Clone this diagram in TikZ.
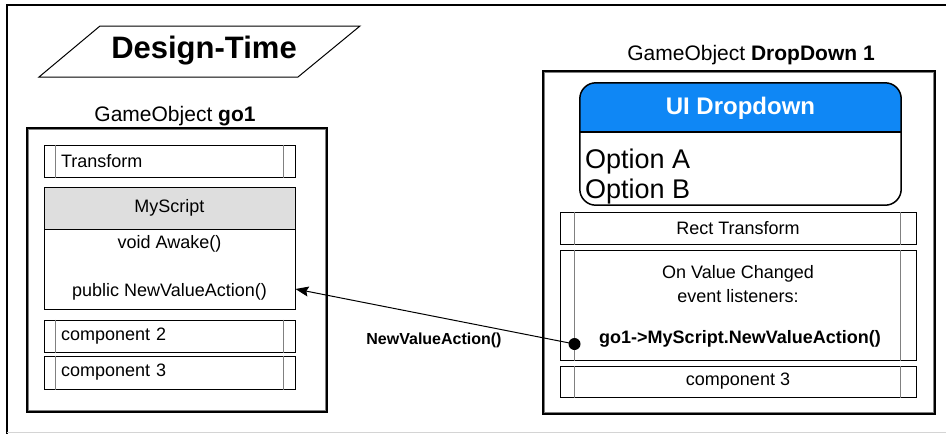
\documentclass[tikz,border=0pt]{standalone}
\usepackage{fontspec}
\setmainfont{Liberation Sans}
\usetikzlibrary{arrows.meta}
\usetikzlibrary{positioning}
\usetikzlibrary{calc}
\definecolor{hdrgray}{HTML}{DEDEDE}
\definecolor{ddblue}{HTML}{0F87F5}
\definecolor{bargray}{HTML}{808080}
\definecolor{framegray}{HTML}{D4D4D4}

\begin{document}
\begin{tikzpicture}[x=1pt,y=-1pt,
    txt/.style={inner sep=0pt,font=\fontsize{18}{21}\selectfont},
    bar/.style={draw,line width=1pt,inner sep=0pt,minimum height=32pt,font=\fontsize{18}{21}\selectfont},
    leftbar/.style={bar,minimum width=251pt,text width=217pt,inner xsep=17pt,align=left},
    rightbar/.style={bar,minimum width=356pt},
    goframe/.style={draw,line width=2pt,inner sep=0pt},
    golabel/.style={inner sep=0pt,font=\fontsize{21}{24}\selectfont}]
    \useasboundingbox (0,0) rectangle (946,434);
    % page frame
    \draw[line width=2pt] (7,434) -- (7,5) -- (946,5);
    \draw[framegray,line width=1pt] (7,432) -- (946,432);
    \node[inner sep=0pt,font=\fontsize{31}{35}\selectfont\bfseries] (designtime) at (204,51) {Design-Time};
    \draw[line width=1pt] (39,77) -- (100,26) -- (360,26) -- (298,77) -- cycle;

    % GameObject go1
    \node[golabel] (go1label) at (175,116) {GameObject \textbf{go1}};
    \node[goframe,minimum width=300pt,minimum height=284pt] (go1obj) at (177,270) {};
    \node[leftbar] (transform) at (169.5,161) {Transform};
    \node[bar,minimum width=251pt,minimum height=42pt,fill=hdrgray] (scripthead) at (169.5,208) {MyScript};
    \node[bar,minimum width=251pt,minimum height=80pt] (scriptbody) at (169.5,269) {};
    \node[txt] (awake) at (169.5,244) {void Awake()};
    \node[txt] (nva) at (169.5,292) {public NewValueAction()};
    \node[leftbar] (comptwo) at (169.5,336) {component 2};
    \node[leftbar,minimum height=33pt] (compthree) at (169.5,372.5) {component 3};

    % GameObject DropDown 1
    \node[golabel] (dd1label) at (751,55) {GameObject \textbf{DropDown 1}};
    \node[goframe,minimum width=392pt,minimum height=343pt] (dd1obj) at (739,242.5) {};
    \node[minimum width=321pt,minimum height=122pt,inner sep=0pt] (dropdown) at (740.5,144) {};
    \begin{scope}
      \clip[rounded corners=16pt] (dropdown.north west) rectangle (dropdown.south east);
      \fill[ddblue] (dropdown.north west) rectangle ($(dropdown.north east)+(0,49)$);
    \end{scope}
    \draw[line width=1.5pt] ($(dropdown.north west)+(0,49)$) -- ($(dropdown.north east)+(0,49)$);
    \draw[line width=1.5pt,rounded corners=16pt] (dropdown.north west) rectangle (dropdown.south east);
    \node[inner sep=0pt,text=white,font=\fontsize{24}{28}\selectfont\bfseries] (ddhead) at (740.5,108) {UI Dropdown};
    \node[anchor=base west,inner sep=0pt,font=\fontsize{27}{31}\selectfont] (opta) at (585,168) {Option A};
    \node[anchor=base west,inner sep=0pt,font=\fontsize{27}{31}\selectfont] (optb) at (585,198) {Option B};
    \node[rightbar] (rectxf) at (738,228) {Rect Transform};
    \node[rightbar,minimum height=110pt] (listeners) at (738,305) {};
    \node[txt] (onval) at (738,274) {On Value Changed};
    \node[txt] (evlist) at (738,296) {event listeners:};
    \node[txt,font=\fontsize{18}{21}\selectfont\bfseries] (listener) at (740,339) {go1->MyScript.NewValueAction()};
    \node[rightbar,minimum height=31pt] (compthreeb) at (738,381.5) {component 3};

    % inner edges of the component bars
    \foreach \n in {transform,comptwo,compthree}{
      \draw[bargray,line width=1pt] ([xshift=12pt]\n.north west) -- ([xshift=12pt]\n.south west);
      \draw[bargray,line width=1pt] ([xshift=-12pt]\n.north east) -- ([xshift=-12pt]\n.south east);
    }
    \foreach \n in {rectxf,listeners,compthreeb}{
      \draw[bargray,line width=1pt] ([xshift=15pt]\n.north west) -- ([xshift=15pt]\n.south west);
      \draw[bargray,line width=1pt] ([xshift=-16pt]\n.north east) -- ([xshift=-16pt]\n.south east);
    }
    \foreach \n in {go1obj,dd1obj}{
      \draw[bargray,line width=0.8pt] ([shift={(2.5,2.5)}]\n.north west) rectangle ([shift={(-2.5,-2.5)}]\n.south east);
    }

    % connection
    \coordinate (hookin) at ([yshift=-20pt]scriptbody.east);
    \coordinate (hookout) at ([shift={(15,39)}]listeners.west);
    \draw[line width=1pt,-{Stealth[length=13pt,width=10pt,inset=2pt]}] (hookout) -- (hookin);
    \fill (hookout) circle (6pt);
    \node[inner sep=0pt,font=\fontsize{16}{19}\selectfont\bfseries] (hooklabel) at (434,340) {NewValueAction()};
\end{tikzpicture}
\end{document}
